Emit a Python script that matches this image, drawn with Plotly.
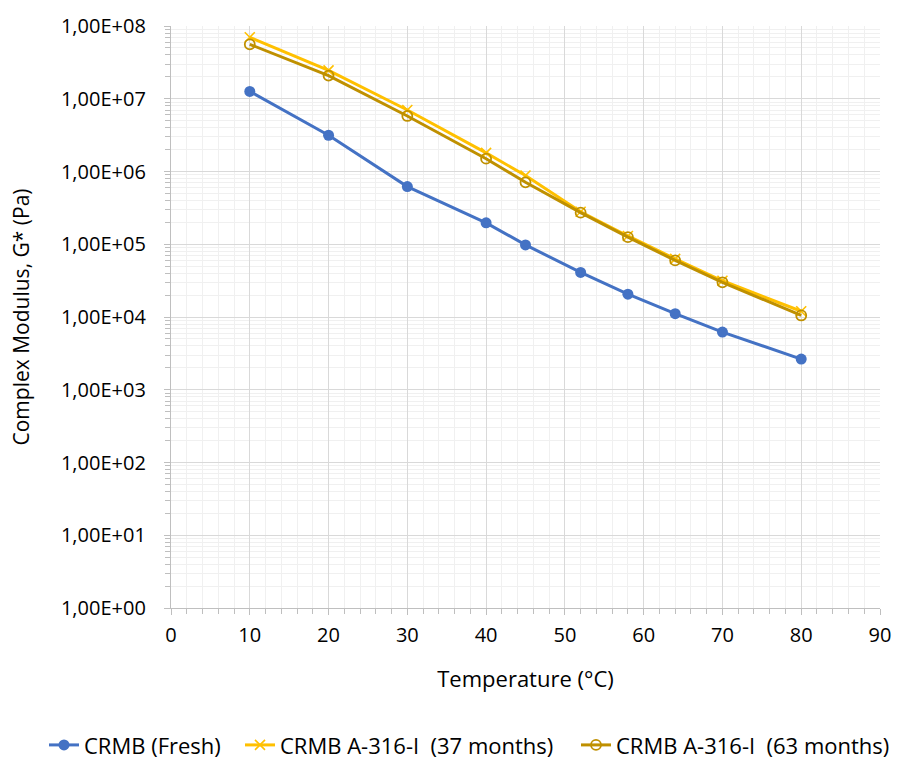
import plotly.graph_objects as go

temperature = [10, 20, 30, 40, 45, 52, 58, 64, 70, 80]
g_fresh = [1.26e7, 3.15e6, 6.2e5, 1.97e5, 9.8e4, 4.1e4, 2.06e4, 1.11e4, 6.2e3, 2.64e3]
g_37 = [7.0e7, 2.45e7, 7.0e6, 1.8e6, 8.8e5, 2.8e5, 1.3e5, 6.3e4, 3.15e4, 1.2e4]
g_63 = [5.6e7, 2.08e7, 5.8e6, 1.5e6, 7.1e5, 2.72e5, 1.25e5, 6.0e4, 3.0e4, 1.05e4]

names = ["CRMB (Fresh)", "CRMB A-316-I  (37 months)", "CRMB A-316-I  (63 months)"]
colors = ["#4472C4", "#FFC000", "#BF9000"]

y_tickvals = [1e0, 1e1, 1e2, 1e3, 1e4, 1e5, 1e6, 1e7, 1e8]
y_ticktext = ["1,00E+00", "1,00E+01", "1,00E+02", "1,00E+03", "1,00E+04",
              "1,00E+05", "1,00E+06", "1,00E+07", "1,00E+08"]
x_tickvals = [0, 10, 20, 30, 40, 50, 60, 70, 80, 90]

FONT = "Open Sans"

fig = go.Figure()
fig.add_trace(go.Scatter(x=temperature, y=g_fresh, name=names[0], mode="lines+markers",
                         line=dict(color=colors[0], width=3), legend="legend",
                         marker=dict(symbol="circle", size=11, color=colors[0])))
fig.add_trace(go.Scatter(x=temperature, y=g_37, name=names[1], mode="lines+markers",
                         line=dict(color=colors[1], width=3), legend="legend2",
                         marker=dict(symbol="x-thin", size=10, line=dict(color=colors[1], width=1.6))))
fig.add_trace(go.Scatter(x=temperature, y=g_63, name=names[2], mode="lines+markers",
                         line=dict(color=colors[2], width=3), legend="legend3",
                         marker=dict(symbol="circle-open", size=10, color=colors[2], line=dict(width=1.8))))

leg_common = dict(orientation="h", xref="container", yref="container", xanchor="left",
                  yanchor="middle", y=0.026, font=dict(family=FONT, size=22),
                  bgcolor="rgba(0,0,0,0)", borderwidth=0)

fig.update_layout(
    width=908, height=765,
    margin=dict(l=171, r=28, t=22, b=157),
    paper_bgcolor="white", plot_bgcolor="white",
    font=dict(family=FONT, size=20, color="#000000"),
    showlegend=True,
    legend=dict(x=44 / 908, **leg_common),
    legend2=dict(x=240 / 908, **leg_common),
    legend3=dict(x=576 / 908, **leg_common),
)
fig.update_xaxes(
    range=[0, 90], tickvals=x_tickvals, ticks="outside", ticklen=6, tickcolor="#BFBFBF",
    showgrid=True, gridcolor="#D9D9D9", gridwidth=1.3,
    showline=True, linecolor="#BFBFBF", linewidth=1.3,
    minor=dict(dtick=2, showgrid=True, gridcolor="#F0F0F0", gridwidth=1.3,
               ticks="outside", ticklen=5, tickcolor="#BFBFBF"),
    title=dict(text="Temperature (°C)", font=dict(size=22), standoff=24),
    tickfont=dict(size=20), zeroline=False, ticklabelstandoff=3,
)
fig.update_yaxes(
    type="log", range=[0, 8], tickvals=y_tickvals, ticktext=y_ticktext,
    ticks="outside", ticklen=6, tickcolor="#BFBFBF",
    showgrid=True, gridcolor="#D9D9D9", gridwidth=1.3,
    showline=True, linecolor="#BFBFBF", linewidth=1.3,
    minor=dict(dtick="D1", showgrid=True, gridcolor="#F0F0F0", gridwidth=1.3,
               ticks="outside", ticklen=5, tickcolor="#BFBFBF"),
    title=dict(text="Complex Modulus, G* (Pa)", font=dict(size=21), standoff=25),
    tickfont=dict(size=20), zeroline=False, ticklabelstandoff=14,
)

fig.write_html("out.html")
